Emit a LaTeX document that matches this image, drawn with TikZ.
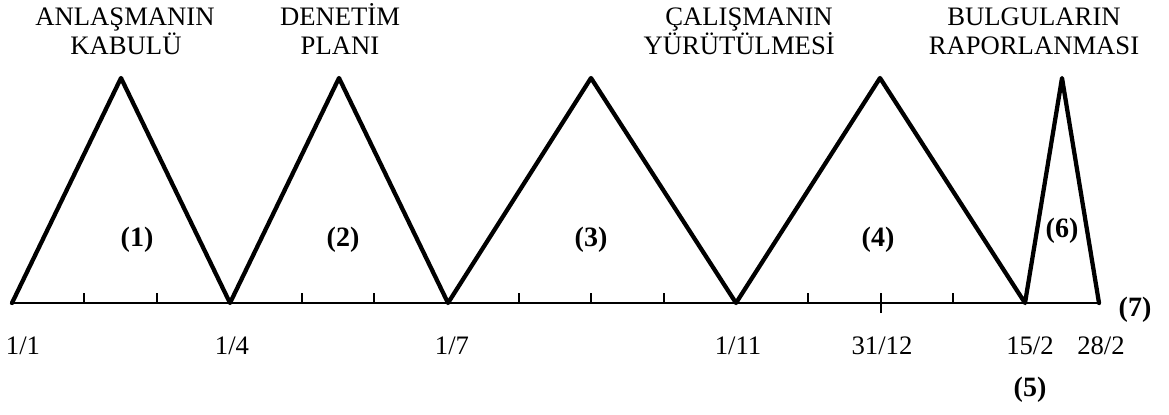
\documentclass[tikz,border=0pt]{standalone}
\usepackage{fontspec}
\setmainfont{Liberation Serif}
\begin{document}
\begin{tikzpicture}[x=0.75pt,y=-0.75pt,
  tri/.style={line width=3.2pt, line join=round, line cap=round},
  axisline/.style={line width=2.2pt},
  tickmark/.style={line width=1.6pt},
  lbl/.style={font=\fontsize{20}{22}\selectfont, inner sep=0pt},
  num/.style={font=\fontsize{21}{23}\selectfont\bfseries, inner sep=0pt},
  head/.style={font=\fontsize{20}{22}\selectfont, inner sep=0pt, anchor=base}]
\useasboundingbox (0,0) rectangle (1169,414);
% base points and apexes
\coordinate (b0) at (12,303);
\coordinate (b1) at (230,303);
\coordinate (b2) at (448,303);
\coordinate (b3) at (736,303);
\coordinate (b4) at (1025,303);
\coordinate (b5) at (1099,303);
\coordinate (t1) at (121,78);
\coordinate (t2) at (339,78);
\coordinate (t3) at (591,78);
\coordinate (t4) at (880,78);
\coordinate (t6) at (1062,78);
% axis
\draw[axisline] (b0) -- (b5);
\foreach \x in {84.4,156.8,301.6,374,518.8,591.2,663.6,808.4,953.2}
  \draw[tickmark] (\x,303) -- (\x,293);
\draw[tickmark] (880.8,313) -- (880.8,293);
% triangles
\draw[tri] (b0) -- (t1) -- (b1) -- (t2) -- (b2) -- (t3) -- (b3) -- (t4) -- (b4) -- (t6) -- (b5);
% headings
\node[head] (h1a) at (125,26) {ANLAŞMANIN};
\node[head] (h1b) at (126,54) {KABULÜ};
\node[head] (h2a) at (340,26) {DENETİM};
\node[head] (h2b) at (340,54) {PLANI};
\node[head, anchor=base east] (h3a) at (833,26) {ÇALIŞMANIN};
\node[head, anchor=base east] (h3b) at (835,54) {YÜRÜTÜLMESİ};
\node[head] (h4a) at (1034,26) {BULGULARIN};
\node[head] (h4b) at (1034,54) {RAPORLANMASI};
% phase numbers
\node[num] (n1) at (137,240) {(1)};
\node[num] (n2) at (343,240) {(2)};
\node[num] (n3) at (591,240) {(3)};
\node[num] (n4) at (878,240) {(4)};
\node[num] (n6) at (1062,231) {(6)};
\node[num] (n7) at (1135,310) {(7)};
\node[num] (n5) at (1030,390) {(5)};
% dates
\node[lbl] (d1) at (23,346) {1/1};
\node[lbl] (d2) at (232,346) {1/4};
\node[lbl] (d3) at (452,346) {1/7};
\node[lbl] (d4) at (738,346) {1/11};
\node[lbl] (d5) at (882,346) {31/12};
\node[lbl] (d6) at (1030,346) {15/2};
\node[lbl] (d7) at (1101,346) {28/2};
\end{tikzpicture}
\end{document}
